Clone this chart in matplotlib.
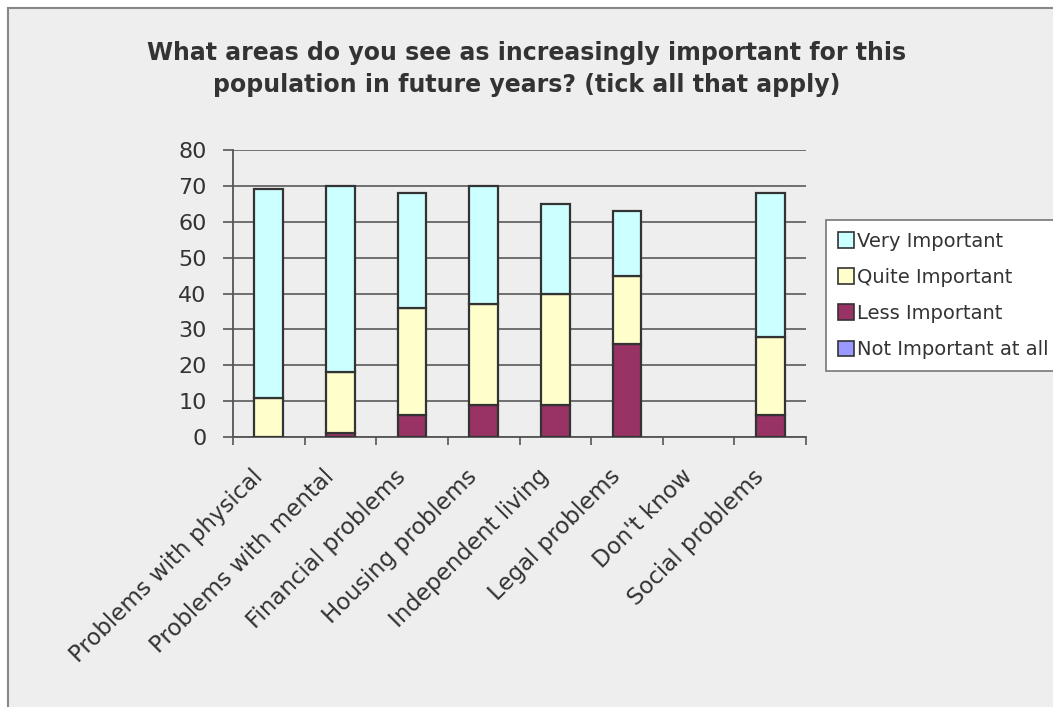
import matplotlib.pyplot as plt
import matplotlib.transforms as mtransforms
import numpy as np
from matplotlib.patches import Rectangle

categories = [
    "Problems with physical", "Problems with mental", "Financial problems",
    "Housing problems", "Independent living", "Legal problems",
    "Don't know", "Social problems",
]
not_important = [0, 0, 0, 0, 0, 0, 0, 0]
less_important = [0, 1, 6, 9, 9, 26, 0, 6]
quite_important = [11, 17, 30, 28, 31, 19, 0, 22]
very_important = [58, 52, 32, 33, 25, 18, 0, 40]

series = [
    ("Not Important at all", not_important, "#9999FF"),
    ("Less Important", less_important, "#993366"),
    ("Quite Important", quite_important, "#FFFFCC"),
    ("Very Important", very_important, "#CCFFFF"),
]

fig = plt.figure(figsize=(10.53, 7.07), dpi=100)
fig.patch.set_facecolor("white")
fig.patches.append(Rectangle((8 / 1053, -0.01), 1.0, 1 - 8 / 707 + 0.01,
                             transform=fig.transFigure, facecolor="#EEEEEE",
                             edgecolor="#888888", linewidth=1.5, zorder=-10))

ax = fig.add_axes([233 / 1053, 1 - 437 / 707, 573 / 1053, 287 / 707])
ax.set_facecolor("none")

x = np.arange(len(categories)) + 0.5
bottom = np.zeros(len(categories))
handles = {}
for name, vals, color in series:
    vals = np.array(vals, dtype=float)
    mask = vals > 0
    ax.bar(x[mask], vals[mask], width=0.4, bottom=bottom[mask], color=color,
           edgecolor="#333333", linewidth=1.6, zorder=3)
    handles[name] = Rectangle((0, 0), 1, 1, facecolor=color, edgecolor="#333333", linewidth=1.2)
    bottom += vals

ax.set_xlim(0, 8)
ax.set_ylim(0, 80)
ax.set_yticks(range(0, 81, 10))
ax.tick_params(axis="y", labelsize=16, length=7, width=1.2, color="#555555",
               labelcolor="#333333", pad=12)
ax.yaxis.grid(True, color="#6f6f6f", linewidth=1.4, zorder=1)

ax.set_xticks(range(0, 9))
ax.set_xticklabels([])
ax.set_xticks(x, minor=True)
ax.set_xticklabels(categories, minor=True, rotation=45, ha="right",
                   rotation_mode="anchor", fontsize=16.5, color="#333333")
ax.tick_params(axis="x", which="major", length=6, width=1.2, color="#555555")
ax.tick_params(axis="x", which="minor", length=0, pad=20)
# nudge rotated labels left so they end just under each bar
shift = mtransforms.ScaledTranslation(-18 / 100, 0, fig.dpi_scale_trans)
for lab in ax.get_xticklabels(minor=True):
    lab.set_transform(lab.get_transform() + shift)

for side in ["top", "right"]:
    ax.spines[side].set_visible(False)
for side in ["left", "bottom"]:
    ax.spines[side].set_color("#555555")
    ax.spines[side].set_linewidth(1.3)

fig.text(0.5, 1 - 69 / 707, "What areas do you see as increasingly important for this\n"
         "population in future years? (tick all that apply)",
         ha="center", va="center", fontsize=17, fontweight="bold", color="#333333",
         linespacing=1.45)

order = ["Very Important", "Quite Important", "Less Important", "Not Important at all"]
leg = fig.legend([handles[n] for n in order], order, loc="upper left",
                 bbox_to_anchor=(826 / 1053, 1 - 220 / 707), fontsize=14,
                 frameon=True, fancybox=False, handlelength=0.85, handleheight=0.85,
                 handletextpad=0.15, labelspacing=0.88, borderpad=0.6,
                 borderaxespad=0, framealpha=1)
leg.get_frame().set_edgecolor("#777777")
leg.get_frame().set_linewidth(1.2)
for t in leg.get_texts():
    t.set_color("#333333")

fig.savefig("out.png", dpi=100)
